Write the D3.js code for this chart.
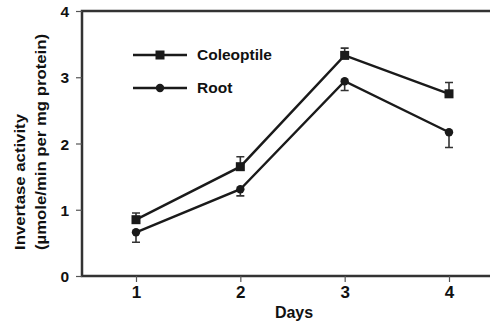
<!DOCTYPE html>
<meta charset="utf-8">
<html>
<head>
<style>
  body { margin: 0; background: #fff; }
  text { font-family: "Liberation Sans", Arial, sans-serif; font-weight: bold; fill: #111; }
</style>
</head>
<body>
<script src="https://d3js.org/d3.v7.min.js"></script>
<script>
// data
var days = [1, 2, 3, 4];
var coleoptile = [0.85, 1.65, 3.33, 2.75];
var coleoptileErr = [0.10, 0.15, 0.11, 0.17];
var root = [0.66, 1.31, 2.94, 2.17];
var rootErr = [0.15, 0.10, 0.14, 0.23];
var yTicks = [0, 1, 2, 3, 4];

var W = 490, H = 326;
var plotLeft = 82, plotTop = 11, plotBottom = 276;

var x = d3.scaleLinear().domain([1, 4]).range([136, 449]);
var y = d3.scaleLinear().domain([0, 4]).range([plotBottom, plotTop]);

var svg = d3.select("body").append("svg")
    .attr("width", W)
    .attr("height", H);

// frame: left, top and bottom lines run off to the right edge
svg.append("path")
    .attr("d", "M" + W + "," + plotTop + "H" + plotLeft + "V" + plotBottom + "H" + W)
    .attr("fill", "none")
    .attr("stroke", "#333")
    .attr("stroke-width", 2.5);

// y axis
var yAxis = d3.axisLeft(y).tickValues(yTicks).tickSize(6).tickPadding(7).tickFormat(d3.format("d"));
var gy = svg.append("g").attr("transform", "translate(" + plotLeft + ",0)").call(yAxis);
gy.select(".domain").remove();
gy.selectAll("line").attr("stroke", "#555").attr("stroke-width", 1.2);
gy.selectAll("text").style("font-size", "15.5px").attr("dy", "0.36em");

// x axis
var xAxis = d3.axisBottom(x).tickValues(days).tickSize(6).tickPadding(4).tickFormat(d3.format("d"));
var gx = svg.append("g").attr("transform", "translate(0," + plotBottom + ")").call(xAxis);
gx.select(".domain").remove();
gx.selectAll("line").attr("stroke", "#555").attr("stroke-width", 1.2);
gx.selectAll("text").style("font-size", "17px");

// axis titles
svg.append("text")
    .attr("x", 294).attr("y", 318)
    .attr("text-anchor", "middle")
    .style("font-size", "16px")
    .text("Days");

var ylab = svg.append("text")
    .attr("transform", "translate(25,250) rotate(-90)")
    .style("font-size", "14px");
ylab.append("tspan").attr("x", 0).attr("y", 0)
    .attr("textLength", 136).attr("lengthAdjust", "spacingAndGlyphs")
    .text("Invertase activity");
ylab.append("tspan").attr("x", 0).attr("y", 21)
    .attr("textLength", 216).attr("lengthAdjust", "spacingAndGlyphs")
    .text("(\u00b5mole/min per mg protein)");

var line = d3.line()
    .x(function(d, i) { return x(days[i]); })
    .y(function(d) { return y(d); });

function series(vals, errs, dir, marker) {
  var g = svg.append("g");
  g.append("path")
      .datum(vals)
      .attr("d", line)
      .attr("fill", "none")
      .attr("stroke", "#1a1a1a")
      .attr("stroke-width", 2.4);
  // one-sided error bars
  g.selectAll(".err").data(vals).enter().append("path")
      .attr("d", function(d, i) {
        var cx = x(days[i]), y0 = y(d), y1 = y(d + dir * errs[i]);
        return "M" + cx + "," + y0 + "V" + y1 + "M" + (cx - 4) + "," + y1 + "H" + (cx + 4);
      })
      .attr("fill", "none")
      .attr("stroke", "#333")
      .attr("stroke-width", 1.6);
  if (marker === "square") {
    g.selectAll(".m").data(vals).enter().append("rect")
        .attr("x", function(d, i) { return x(days[i]) - 4.5; })
        .attr("y", function(d) { return y(d) - 4.5; })
        .attr("width", 9).attr("height", 9)
        .attr("fill", "#1a1a1a");
  } else {
    g.selectAll(".m").data(vals).enter().append("circle")
        .attr("cx", function(d, i) { return x(days[i]); })
        .attr("cy", function(d) { return y(d); })
        .attr("r", 4.2)
        .attr("fill", "#1a1a1a");
  }
}

series(coleoptile, coleoptileErr, 1, "square");
series(root, rootErr, -1, "circle");

// legend
var legend = [
  {name: "Coleoptile", marker: "square", y: 55},
  {name: "Root", marker: "circle", y: 88}
];
legend.forEach(function(l) {
  svg.append("line")
      .attr("x1", 133).attr("x2", 187)
      .attr("y1", l.y).attr("y2", l.y)
      .attr("stroke", "#1a1a1a").attr("stroke-width", 2.4);
  if (l.marker === "square") {
    svg.append("rect").attr("x", 155.5).attr("y", l.y - 4.5)
        .attr("width", 9).attr("height", 9).attr("fill", "#1a1a1a");
  } else {
    svg.append("circle").attr("cx", 160).attr("cy", l.y).attr("r", 4.2).attr("fill", "#1a1a1a");
  }
  svg.append("text")
      .attr("x", 197).attr("y", l.y + 5)
      .style("font-size", "15.5px")
      .text(l.name);
});
</script>
</body>
</html>
